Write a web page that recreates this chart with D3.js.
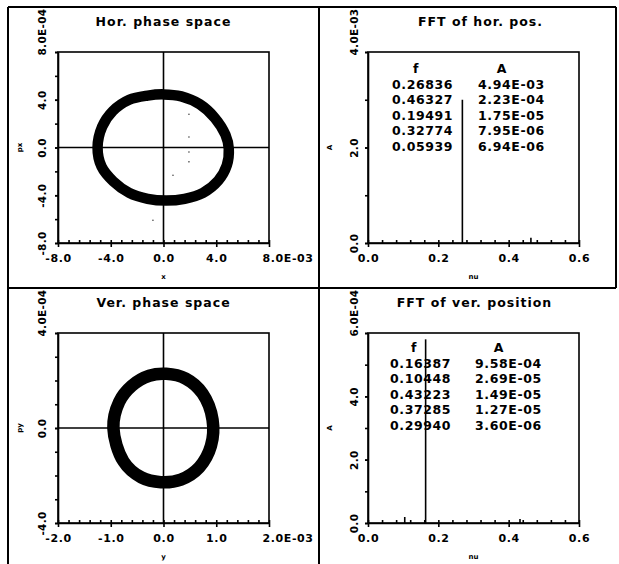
<!DOCTYPE html>
<html>
<head>
<meta charset="utf-8">
<script src="https://cdn.jsdelivr.net/npm/d3@7"></script>
<style>
body { margin: 0; background: #fff; }
text { font-family: "DejaVu Sans", sans-serif; font-weight: bold; fill: #000; }
.axis path, .axis line { stroke: #000; stroke-width: 1.6; }
.axis text { font-size: 11px; letter-spacing: 0.6px; }
.yax text { font-size: 10.5px; letter-spacing: 0.3px; }
</style>
</head>
<body>
<script>
var width = 619, height = 564;

//Hor. phase space, centre line of the band (x in E-03, px in E-04)
var horX = [-5.0, -4.65, -3.85, -2.6, -1.2, 0, 1.35, 2.75, 3.9, 4.7, 4.95, 4.8, 4.15, 3.0, 1.6, 0.2, -1.2, -2.6, -3.8, -4.7];
var horY = [0, 1.75, 3.05, 4.0, 4.35, 4.45, 4.28, 3.62, 2.47, 1.06, -0.1, -1.5, -2.78, -3.8, -4.3, -4.45, -4.3, -3.8, -2.85, -1.6];
var horStrayX = [1.93, 1.93, 1.93, 1.93, 0.72, -0.8];
var horStrayY = [2.78, 0.88, -0.38, -1.2, -2.33, -6.1];

//Ver. phase space (y in E-03, py in E-04)
var verX = [-0.95, -0.84, -0.6, -0.27, 0.05, 0.42, 0.74, 0.93, 0.9, 0.68, 0.33, -0.05, -0.42, -0.76];
var verY = [0, 1.1, 1.78, 2.2, 2.28, 2.08, 1.45, 0.35, -0.75, -1.65, -2.17, -2.28, -2.08, -1.4];

//FFT spectra (amplitude in E-03 / E-04)
var hFreq = [0.26836, 0.46327];
var hAmp = [3.0, 0.11];
var vFreq = [0.16387, 0.10448, 0.43223];
var vAmp = [5.8, 0.19, 0.13];

//Tables printed in the FFT panels
var hTabF = ["0.26836", "0.46327", "0.19491", "0.32774", "0.05939"];
var hTabA = ["4.94E-03", "2.23E-04", "1.75E-05", "7.95E-06", "6.94E-06"];
var vTabF = ["0.16387", "0.10448", "0.43223", "0.37285", "0.29940"];
var vTabA = ["9.58E-04", "2.69E-05", "1.49E-05", "1.27E-05", "3.60E-06"];

//Ticks
var horXTicks = [-8, -4, 0, 4, 8], horXLabels = ["-8.0", "-4.0", "0.0", "4.0", "8.0E-03"];
var horYTicks = [-8, -4, 0, 4, 8], horYLabels = ["-8.0", "-4.0", "0.0", "4.0", "8.0E-04"];
var verXTicks = [-2, -1, 0, 1, 2], verXLabels = ["-2.0", "-1.0", "0.0", "1.0", "2.0E-03"];
var verYTicks = [-4, 0, 4], verYLabels = ["-4.0", "0.0", "4.0E-04"];
var nuTicks = [0, 0.2, 0.4, 0.6], nuLabels = ["0.0", "0.2", "0.4", "0.6"];
var hAmpTicks = [0, 2, 4], hAmpLabels = ["0.0", "2.0", "4.0E-03"];
var vAmpTicks = [0, 2, 4, 6], vAmpLabels = ["0.0", "2.0", "4.0", "6.0E-04"];

var svg = d3.select("body")
            .append("svg")
            .attr("width", width)
            .attr("height", height);

//outer frame
var frame = [[8, 7, 616, 7], [8, 7, 8, 564], [616, 7, 616, 288], [8, 288, 616, 288], [319, 7, 319, 564]];
svg.selectAll(".frame")
   .data(frame)
   .enter()
   .append("line")
   .attr("x1", function(d) { return d[0]; })
   .attr("y1", function(d) { return d[1]; })
   .attr("x2", function(d) { return d[2]; })
   .attr("y2", function(d) { return d[3]; })
   .attr("stroke", "#000")
   .attr("stroke-width", 2);

function panel(c) {
  var x = d3.scaleLinear().domain(c.xDomain).range([c.left, c.right]);
  var y = d3.scaleLinear().domain(c.yDomain).range([c.bottom, c.top]);
  var g = svg.append("g");

  //minor ticks
  g.append("g").attr("class", "axis")
   .attr("transform", "translate(0," + c.bottom + ")")
   .call(d3.axisBottom(x).tickValues(c.xMinor).tickSize(-3).tickFormat(""))
   .select(".domain").remove();
  g.append("g").attr("class", "axis")
   .attr("transform", "translate(" + c.left + ",0)")
   .call(d3.axisLeft(y).tickValues(c.yMinor).tickSize(3).tickFormat(""))
   .select(".domain").remove();

  //x axis
  var xa = g.append("g").attr("class", "axis")
    .attr("transform", "translate(0," + c.bottom + ")")
    .call(d3.axisBottom(x).tickValues(c.xTicks).tickSize(4).tickSizeOuter(0)
      .tickFormat(function(d, i) { return c.xLabels[i]; }));
  xa.selectAll("text").attr("y", 15).attr("dy", "0.35em");
  xa.selectAll("text").filter(function(d, i) { return i == c.xTicks.length - 1 && c.xLabels[i].length > 4; })
    .attr("text-anchor", "start").attr("x", -7);

  //y axis, labels turned
  var ya = g.append("g").attr("class", "axis yax")
    .attr("transform", "translate(" + c.left + ",0)")
    .call(d3.axisLeft(y).tickValues(c.yTicks).tickSize(3).tickSizeOuter(0)
      .tickFormat(function(d, i) { return c.yLabels[i]; }));
  ya.selectAll("text")
    .attr("x", 0).attr("dy", "0.35em")
    .attr("text-anchor", "middle")
    .attr("transform", "translate(" + c.labelDx + ",0) rotate(-90)");
  ya.selectAll("text").filter(function(d, i) { return i == c.yTicks.length - 1; })
    .attr("text-anchor", "start").attr("x", -3);

  //box
  g.append("rect")
   .attr("x", c.left).attr("y", c.top)
   .attr("width", c.right - c.left).attr("height", c.bottom - c.top)
   .attr("fill", "none").attr("stroke", "#000").attr("stroke-width", 1.6);

  //title + axis names
  g.append("text").attr("x", (c.left + c.right) / 2 + (c.titleDx || 0)).attr("y", c.top - 30)
   .attr("text-anchor", "middle").attr("dy", "0.35em")
   .style("font-size", "12.5px").style("letter-spacing", "1px")
   .text(c.title);
  g.append("text").attr("x", (c.left + c.right) / 2).attr("y", c.bottom + 34)
   .attr("text-anchor", "middle").attr("dy", "0.35em")
   .style("font-size", "7px").text(c.xName);
  g.append("text")
   .attr("transform", "translate(" + (c.left - 38) + "," + (c.top + c.bottom) / 2 + ") rotate(-90)")
   .attr("text-anchor", "middle").attr("dy", "0.35em")
   .style("font-size", "7px").text(c.yName);

  return {g: g, x: x, y: y};
}

function ring(p, xs, ys, w) {
  var pts = xs.map(function(v, i) { return [v, ys[i]]; });
  var line = d3.line()
    .x(function(d) { return p.x(d[0]); })
    .y(function(d) { return p.y(d[1]); })
    .curve(d3.curveCatmullRomClosed.alpha(0.5));
  p.g.append("path")
   .attr("d", line(pts))
   .attr("fill", "none")
   .attr("stroke", "#000")
   .attr("stroke-width", w);
}

function cross(p) {
  var xd = p.x.domain(), yd = p.y.domain();
  p.g.append("line").attr("x1", p.x(0)).attr("x2", p.x(0)).attr("y1", p.y(yd[0])).attr("y2", p.y(yd[1]))
   .attr("stroke", "#000").attr("stroke-width", 1.6);
  p.g.append("line").attr("x1", p.x(xd[0])).attr("x2", p.x(xd[1])).attr("y1", p.y(0)).attr("y2", p.y(0))
   .attr("stroke", "#000").attr("stroke-width", 1.6);
}

function spectrum(p, fs, as) {
  p.g.selectAll(".peak")
   .data(fs)
   .enter()
   .append("line")
   .attr("x1", function(d) { return p.x(d); })
   .attr("x2", function(d) { return p.x(d); })
   .attr("y1", p.y(0))
   .attr("y2", function(d, i) { return p.y(as[i]); })
   .attr("stroke", "#000")
   .attr("stroke-width", 1.6);
}

function table(p, fx, ax, y0, fcol, acol) {
  var t = p.g.append("g").style("font-size", "12.5px").style("letter-spacing", "0.6px");
  t.append("text").attr("x", fx + 24).attr("y", y0).attr("text-anchor", "middle").attr("dy", "0.35em").text("f");
  t.append("text").attr("x", ax + 24).attr("y", y0).attr("text-anchor", "middle").attr("dy", "0.35em").text("A");
  t.selectAll(".tf").data(fcol).enter().append("text")
   .attr("x", fx).attr("y", function(d, i) { return y0 + 15.5 * (i + 1); })
   .attr("dy", "0.35em").text(function(d) { return d; });
  t.selectAll(".ta").data(acol).enter().append("text")
   .attr("x", ax).attr("y", function(d, i) { return y0 + 15.5 * (i + 1); })
   .attr("dy", "0.35em").text(function(d) { return d; });
}

//Hor. phase space
var p1 = panel({left: 58, right: 269, top: 52, bottom: 243, xDomain: [-8, 8], yDomain: [-8, 8],
  xTicks: horXTicks, xLabels: horXLabels, yTicks: horYTicks, yLabels: horYLabels,
  xMinor: d3.range(-8, 8.01, 0.8), yMinor: d3.range(-8, 8.01, 2), labelDx: -16,
  title: "Hor. phase space", xName: "x", yName: "px"});
cross(p1);
ring(p1, horX, horY, 10.5);
p1.g.selectAll(".stray").data(horStrayX).enter().append("circle")
  .attr("cx", function(d) { return p1.x(d); })
  .attr("cy", function(d, i) { return p1.y(horStrayY[i]); })
  .attr("r", 0.8).attr("fill", "#444");

//FFT of hor. pos.
var p2 = panel({left: 368, right: 579, top: 52, bottom: 243, xDomain: [0, 0.6], yDomain: [0, 4],
  xTicks: nuTicks, xLabels: nuLabels, yTicks: hAmpTicks, yLabels: hAmpLabels,
  xMinor: d3.range(0, 0.601, 0.04), yMinor: d3.range(0, 4.01, 1), labelDx: -14,
  title: "FFT of hor. pos.", titleDx: 7, xName: "nu", yName: "A"});
spectrum(p2, hFreq, hAmp);
table(p2, 392, 478, 69, hTabF, hTabA);

//Ver. phase space
var p3 = panel({left: 58, right: 269, top: 333, bottom: 523, xDomain: [-2, 2], yDomain: [-4, 4],
  xTicks: verXTicks, xLabels: verXLabels, yTicks: verYTicks, yLabels: verYLabels,
  xMinor: d3.range(-2, 2.01, 0.2), yMinor: d3.range(-4, 4.01, 1), labelDx: -16,
  title: "Ver. phase space", xName: "y", yName: "py"});
cross(p3);
ring(p3, verX, verY, 12.5);

//FFT of ver. position
var p4 = panel({left: 368, right: 579, top: 333, bottom: 523, xDomain: [0, 0.6], yDomain: [0, 6],
  xTicks: nuTicks, xLabels: nuLabels, yTicks: vAmpTicks, yLabels: vAmpLabels,
  xMinor: d3.range(0, 0.601, 0.04), yMinor: d3.range(0, 6.01, 1), labelDx: -14,
  title: "FFT of ver. position", titleDx: 1, xName: "nu", yName: "A"});
spectrum(p4, vFreq, vAmp);
table(p4, 390, 475, 348, vTabF, vTabA);
</script>
</body>
</html>
